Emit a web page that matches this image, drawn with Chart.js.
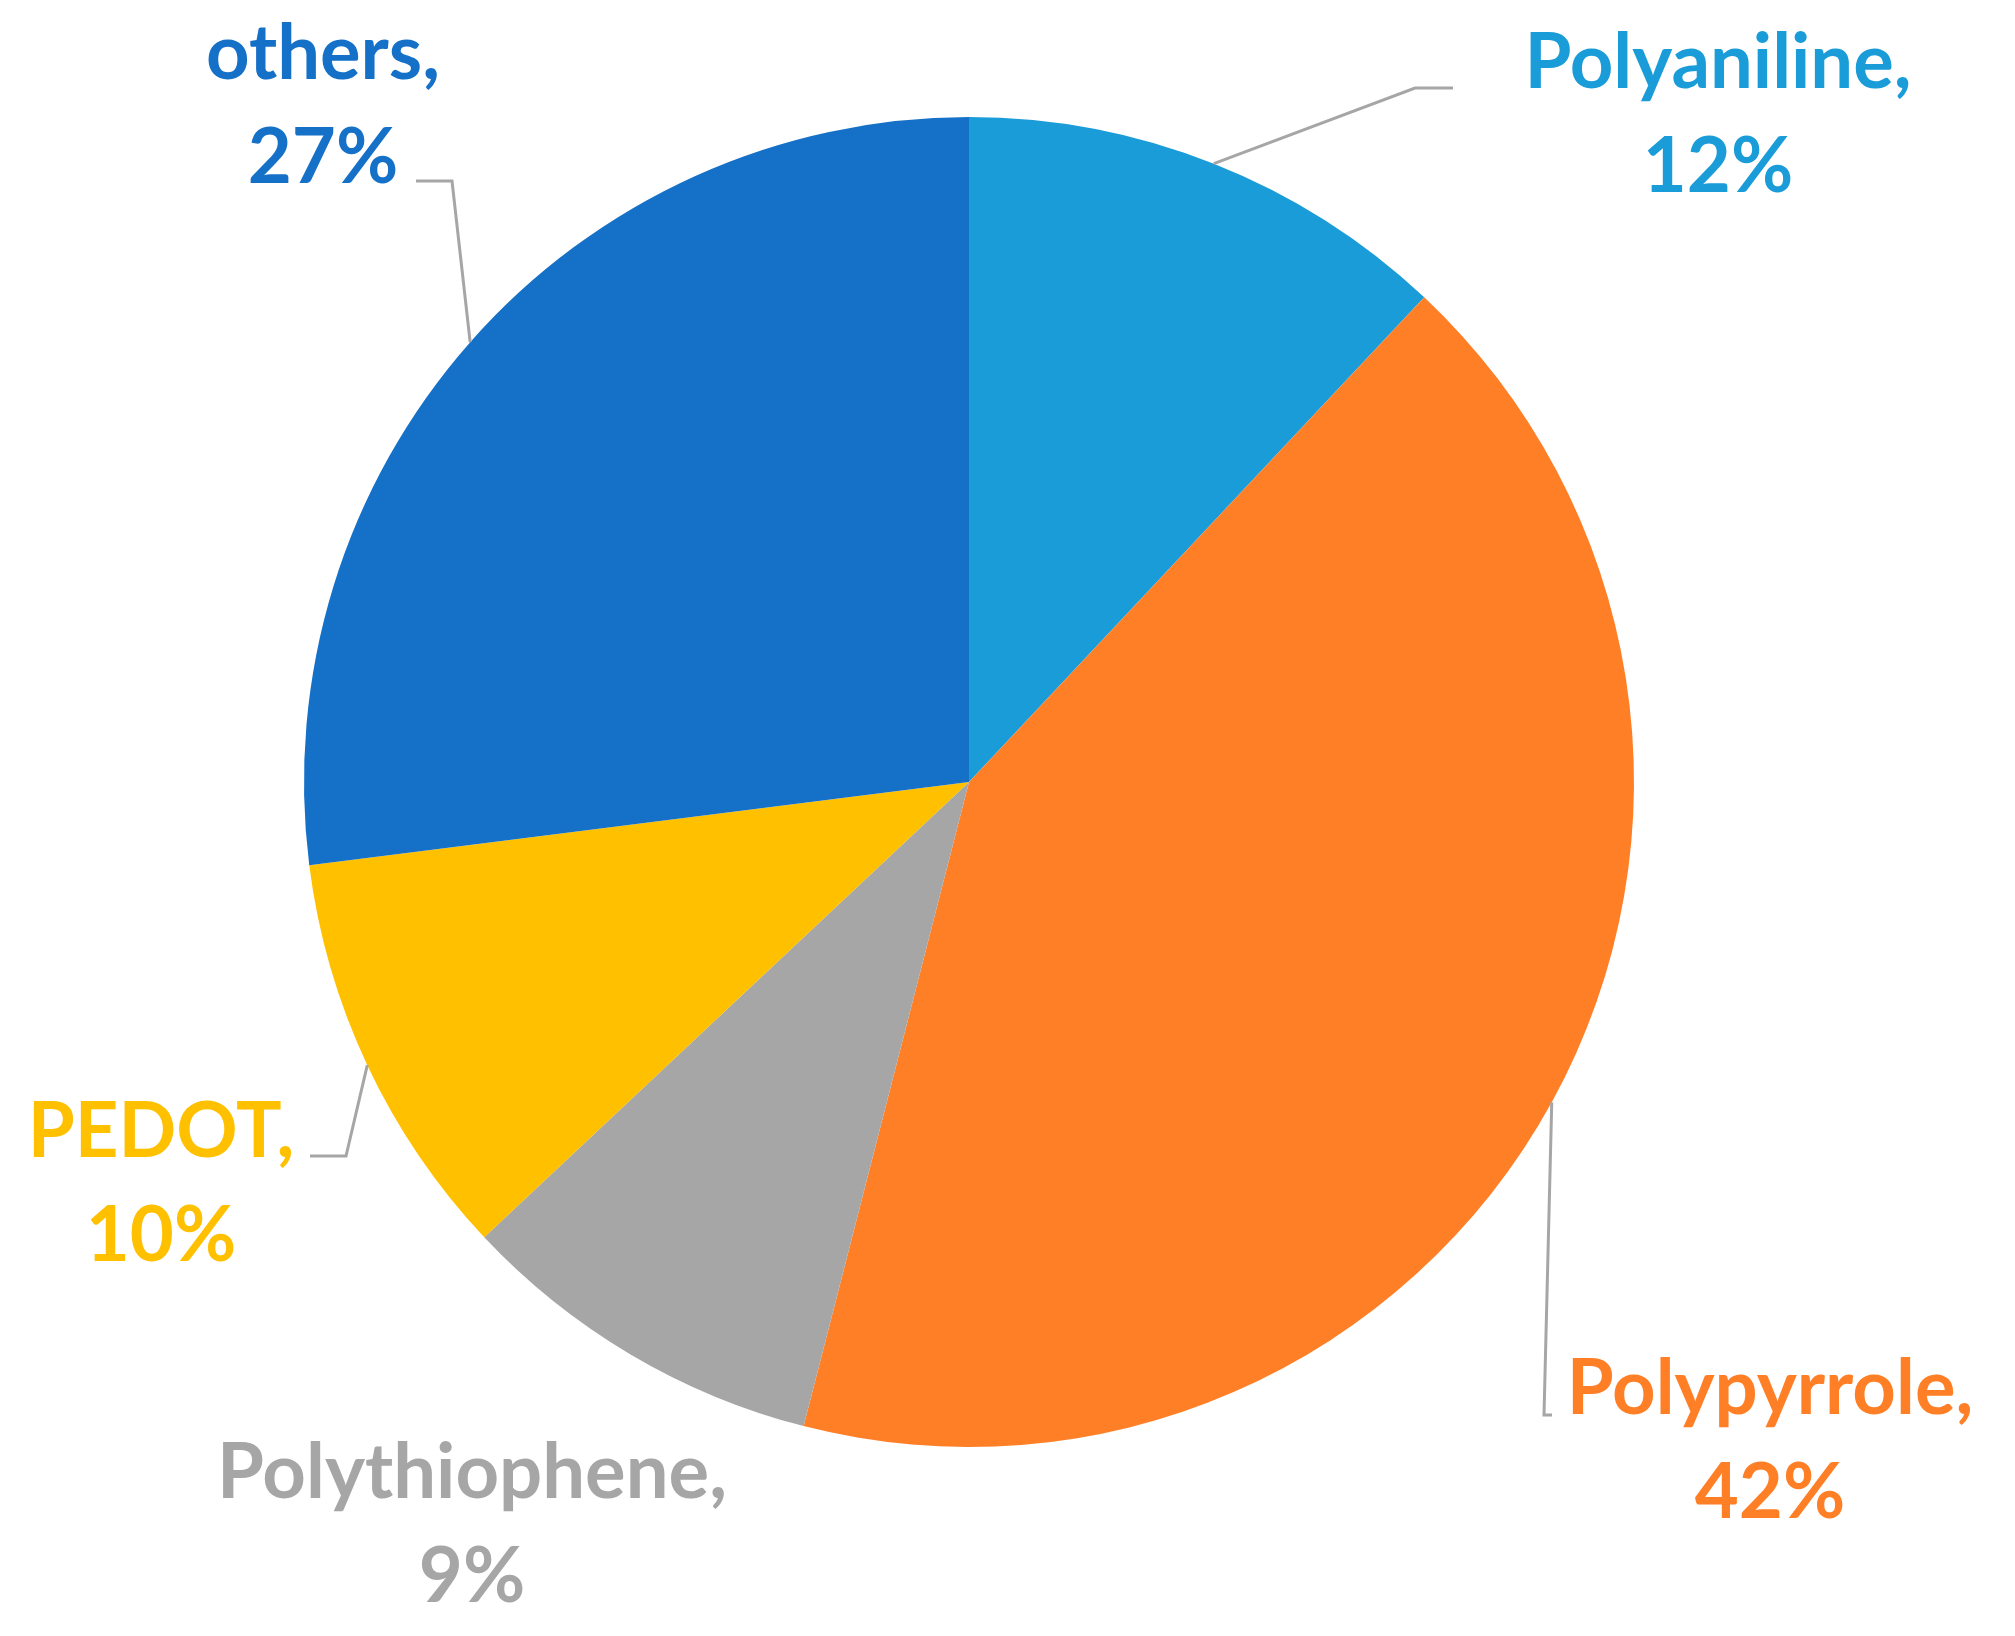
<!DOCTYPE html>
<html lang="en">
<head>
    <meta charset="UTF-8">
    <title>Conducting polymers</title>
    <script src="https://cdn.jsdelivr.net/npm/chart.js"></script>
    <style>
        html, body { margin: 0; padding: 0; background: #fff; }
        #wrap { width: 2015px; height: 1636px; }
    </style>
</head>
<body>
    <div id="wrap"><canvas id="pie"></canvas></div>
    <script>
        const labels = ['Polyaniline', 'Polypyrrole', 'Polythiophene', 'PEDOT', 'others'];
        const shares = [12, 42, 9, 10, 27];
        const colors = ['#1A9CD8', '#FF7F27', '#A6A6A6', '#FFC000', '#1570C8'];

        // label text centre (dx, dy from pie centre) and optional leader elbow/end
        const labelSpots = [
            { text: [749, -667], elbow: [446, -694], end: [484, -694] },
            { text: [801, 659], elbow: [575, 633], end: [583, 633] },
            { text: [-497, 743] },
            { text: [-808, 402], elbow: [-623, 374], end: [-659, 374] },
            { text: [-646, -676], elbow: [-517, -601], end: [-553, -601] }
        ];

        const labelPlugin = {
            id: 'pieLabels',
            afterDraw(chart) {
                const ctx = chart.ctx;
                const meta = chart.getDatasetMeta(0);
                ctx.save();
                ctx.font = 'bold 76px Lato';
                ctx.textAlign = 'center';
                ctx.textBaseline = 'middle';
                meta.data.forEach((arc, i) => {
                    const cx = arc.x, cy = arc.y;
                    const spot = labelSpots[i];
                    if (spot.elbow) {
                        const mid = (arc.startAngle + arc.endAngle) / 2;
                        ctx.beginPath();
                        ctx.moveTo(cx + Math.cos(mid) * arc.outerRadius, cy + Math.sin(mid) * arc.outerRadius);
                        ctx.lineTo(cx + spot.elbow[0], cy + spot.elbow[1]);
                        ctx.lineTo(cx + spot.end[0], cy + spot.end[1]);
                        ctx.strokeStyle = '#A6A6A6';
                        ctx.lineWidth = 3;
                        ctx.stroke();
                    }
                    ctx.fillStyle = colors[i];
                    const tx = cx + spot.text[0], ty = cy + spot.text[1];
                    ctx.fillText(labels[i] + ',', tx, ty - 52);
                    ctx.fillText(shares[i] + '%', tx, ty + 52);
                });
                ctx.restore();
            }
        };

        new Chart(document.getElementById('pie'), {
            type: 'pie',
            data: {
                labels: labels,
                datasets: [{
                    data: shares,
                    backgroundColor: colors,
                    borderWidth: 0
                }]
            },
            options: {
                responsive: true,
                maintainAspectRatio: false,
                animation: false,
                layout: { padding: { top: 117, bottom: 189, left: 300, right: 377 } },
                plugins: {
                    legend: { display: false },
                    tooltip: { enabled: false }
                }
            },
            plugins: [labelPlugin]
        });
    </script>
</body>
</html>
